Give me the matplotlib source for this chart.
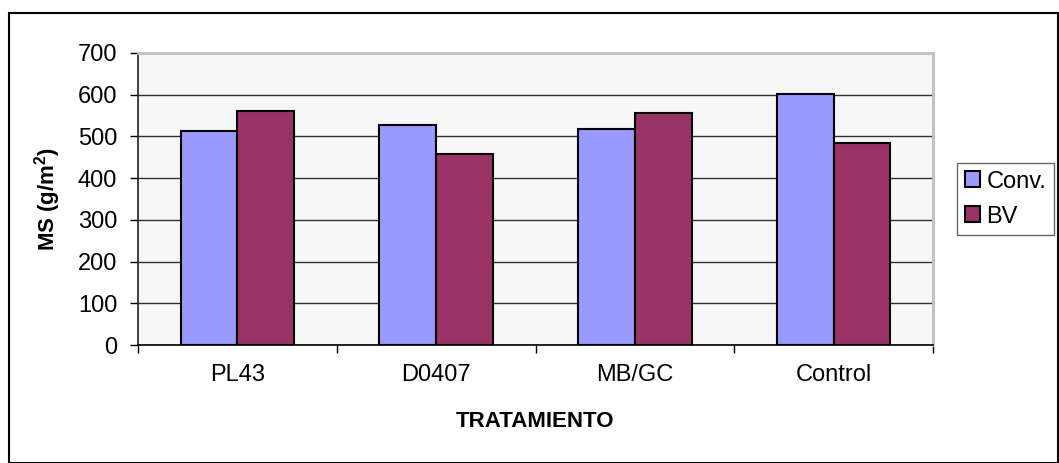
import numpy as np
import matplotlib
matplotlib.use('Agg')
import matplotlib.pyplot as plt
from matplotlib.patches import Rectangle

plt.rcParams['font.family'] = ['Liberation Sans', 'DejaVu Sans']
plt.rcParams['mathtext.fontset'] = 'custom'
plt.rcParams['mathtext.rm'] = 'Liberation Sans'
plt.rcParams['mathtext.bf'] = 'Liberation Sans:bold'

tratamientos = ['PL43', 'D0407', 'MB/GC', 'Control']
conv = [514, 527, 518, 601]
bv = [560, 457, 555, 485]
y_ticks = [0, 100, 200, 300, 400, 500, 600, 700]

W, H = 1059, 463
fig = plt.figure(figsize=(W / 100, H / 100), dpi=100)
fig.patch.set_facecolor('white')

# outer chart frame
fig.patches.append(Rectangle((8.5 / W, 0.0), (W - 9.5) / W, (H - 13) / H,
                             transform=fig.transFigure, fill=False,
                             edgecolor='black', linewidth=1.5))

ax = fig.add_axes([138 / W, (H - 345) / H, 795 / W, 292 / H])
ax.set_facecolor('#f7f7f7')

x = np.arange(len(tratamientos)) + 0.5
bw = 0.285
ax.bar(x - bw / 2, conv, width=bw, color='#9999FF', edgecolor='black',
       linewidth=1.5, label='Conv.', zorder=3)
ax.bar(x + bw / 2, bv, width=bw, color='#993366', edgecolor='black',
       linewidth=1.5, label='BV', zorder=3)

ax.set_xlim(0, len(tratamientos))
ax.set_ylim(0, 700)
ax.set_yticks(y_ticks)
ax.yaxis.grid(True, color='#303030', linewidth=1.0, zorder=1)
ax.set_axisbelow(True)

ax.set_xticks(x)
ax.set_xticklabels(tratamientos)
ax.set_xticks(np.arange(len(tratamientos) + 1), minor=True)
ax.tick_params(axis='x', which='major', length=0, pad=14, labelsize=17)
ax.tick_params(axis='x', which='minor', length=6, width=1, color='black')
ax.tick_params(axis='y', length=6, width=1, pad=9, labelsize=17)

for side in ('top', 'right'):
    ax.spines[side].set_color('#c0c0c0')
    ax.spines[side].set_linewidth(2)
ax.spines['left'].set_color('#202020')
ax.spines['bottom'].set_color('black')
ax.spines['left'].set_linewidth(1.2)
ax.spines['bottom'].set_linewidth(1.2)

ax.set_xlabel('TRATAMIENTO', fontsize=16, fontweight='bold')
ax.xaxis.set_label_coords(0.5, (345 - 411) / 292)
ax.set_ylabel(r'MS (g/m$\mathbf{^2}$)', fontsize=16, fontweight='bold')
ax.yaxis.set_label_coords((63 - 138) / 795, 0.5)

leg = fig.legend(loc='upper left', bbox_to_anchor=(957 / W, 1 - 163 / H),
                 borderaxespad=0, fontsize=17, frameon=True, fancybox=False,
                 handlelength=0.64, handleheight=0.64, handletextpad=0.28,
                 labelspacing=0.55, borderpad=0.32)
leg.get_frame().set_edgecolor('#404040')
leg.get_frame().set_linewidth(1.0)

fig.savefig('out.png', dpi=100)
